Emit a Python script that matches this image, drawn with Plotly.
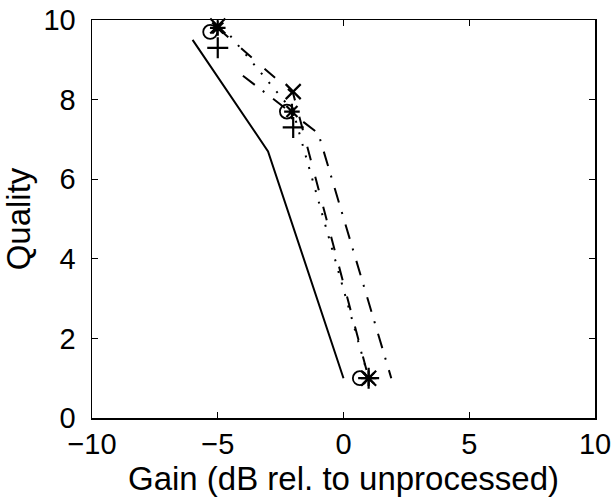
import plotly.graph_objects as go

# ---- data ----
solid_x = [-6.0, -3.0, 0.0]
solid_y = [9.5, 6.7, 1.0]

dashed_x = [-5.0, -2.0, 1.0]
dashed_y = [9.8, 8.15, 1.0]

dotted_x = [-4.5, -2.0, 1.0]
dotted_y = [9.6, 7.7, 1.0]

dashdot_x = [-4.0, -1.0, 1.9]
dashdot_y = [8.6, 7.15, 1.0]

circle_x = [-5.3, -2.25, 0.65]
circle_y = [9.7, 7.7, 1.0]

xmark_x = [-5.0, -2.0, 1.0]
xmark_y = [9.85, 8.2, 1.0]

plus_x = [-5.0, -2.0, 1.0]
plus_y = [9.3, 7.3, 1.0]

star_x = [-5.0, -2.05, 1.0]
star_y = [9.8, 7.7, 1.0]

x_ticks = [-10, -5, 0, 5, 10]
y_ticks = [0, 2, 4, 6, 8, 10]

FONT = "Liberation Sans, Arial, Helvetica, sans-serif"

fig = go.Figure()

line_specs = [
    (solid_x, solid_y, "solid"),
    (dashed_x, dashed_y, "14px,17px"),
    (dotted_x, dotted_y, "2px,10px"),
    (dashdot_x, dashdot_y, "15px,10px,2px,11px"),
]
for xs, ys, dash in line_specs:
    fig.add_trace(go.Scatter(
        x=xs, y=ys, mode="lines",
        line=dict(color="black", width=2, dash=dash),
        showlegend=False, hoverinfo="skip",
    ))

marker_specs = [
    (circle_x, circle_y, "circle-open", 14, 1.8),
    (xmark_x, xmark_y, "x-thin", 15, 2.2),
    (plus_x, plus_y, "cross-thin", 15, 2.2),
    (star_x, star_y, "asterisk", 13, 2.2),
]
for xs, ys, sym, size, lw in marker_specs:
    fig.add_trace(go.Scatter(
        x=xs, y=ys, mode="markers",
        marker=dict(symbol=sym, size=size, color="black",
                    line=dict(color="black", width=lw)),
        cliponaxis=False, showlegend=False, hoverinfo="skip",
    ))

axis_common = dict(
    showgrid=False, zeroline=False,
    showline=True, linecolor="black", linewidth=1.5,
    mirror="ticks", ticks="inside", ticklen=6, tickwidth=1.2, tickcolor="black",
    tickfont=dict(family=FONT, size=29, color="black"),
    ticklabeloverflow="allow",
)

fig.update_xaxes(
    range=[-10, 10], tickvals=x_ticks,
    ticktext=[("\u2212" + str(-v)) if v < 0 else str(v) for v in x_ticks],
    title=dict(text="Gain (dB rel. to unprocessed)", font=dict(family=FONT, size=33, color="black"), standoff=2),
    **axis_common,
)
fig.update_yaxes(
    range=[0, 10], tickvals=y_ticks, ticktext=[str(v) for v in y_ticks],
    ticklabelstandoff=9,
    title=dict(text="Quality", font=dict(family=FONT, size=33, color="black"), standoff=10),
    **axis_common,
)

fig.update_layout(
    width=615, height=500,
    margin=dict(l=92, r=20, t=20, b=82, autoexpand=False),
    paper_bgcolor="white", plot_bgcolor="white",
)

fig.write_html("out.html",
               config={"displayModeBar": False, "staticPlot": True},
               post_script="document.body.style.margin='0';document.body.style.overflow='hidden';")
